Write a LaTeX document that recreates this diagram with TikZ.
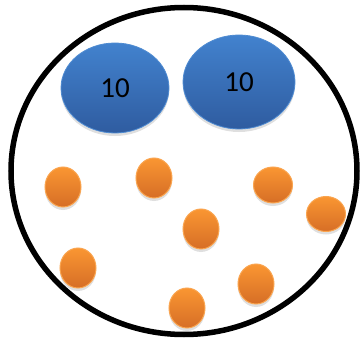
\documentclass[tikz,border=0pt]{standalone}
\usepackage{fontspec}
\setmainfont{Carlito}
\usepackage{xcolor}
\usetikzlibrary{shapes.geometric, shadows}

\definecolor{blueTop}{RGB}{66,130,206}
\definecolor{blueBot}{RGB}{47,92,160}
\definecolor{blueRim}{RGB}{80,140,210}
\definecolor{orTop}{RGB}{250,150,50}
\definecolor{orBot}{RGB}{214,110,38}
\definecolor{orRim}{RGB}{250,165,80}

\begin{document}
\begin{tikzpicture}[x=1pt, y=1pt,
  jar/.style={draw, ellipse, line width=5.5pt, inner sep=0pt},
  coin/.style={ellipse, draw=blueRim, line width=0.8pt, top color=blueTop, bottom color=blueBot,
    inner sep=0pt, font=\fontsize{29}{29}\selectfont,
    drop shadow={opacity=0.25, shadow xshift=0pt, shadow yshift=-3pt}},
  dot/.style={ellipse, draw=orRim, line width=1pt, top color=orTop, bottom color=orBot,
    inner sep=0pt, minimum width=36pt, minimum height=40pt,
    drop shadow={opacity=0.25, shadow xshift=0pt, shadow yshift=-3pt}}]
\useasboundingbox (0,0) rectangle (362,341);
\node[jar, minimum width=346pt, minimum height=327pt] (jar) at (184,170) {};
% the two tens
\node[coin, minimum width=108pt, minimum height=90pt] (tenA) at (115,253) {10};
\node[coin, minimum width=112pt, minimum height=94pt] (tenB) at (239,259) {10};
% small ones
\node[dot] (d1) at (63,154) {};
\node[dot] (d2) at (154,163) {};
\node[dot, minimum width=39pt, minimum height=36pt] (d3) at (273,156) {};
\node[dot, minimum width=39pt, minimum height=35pt] (d4) at (326,127) {};
\node[dot] (d5) at (201,112) {};
\node[dot] (d6) at (78,73) {};
\node[dot] (d7) at (187,33) {};
\node[dot] (d8) at (256,57) {};
\end{tikzpicture}
\end{document}
